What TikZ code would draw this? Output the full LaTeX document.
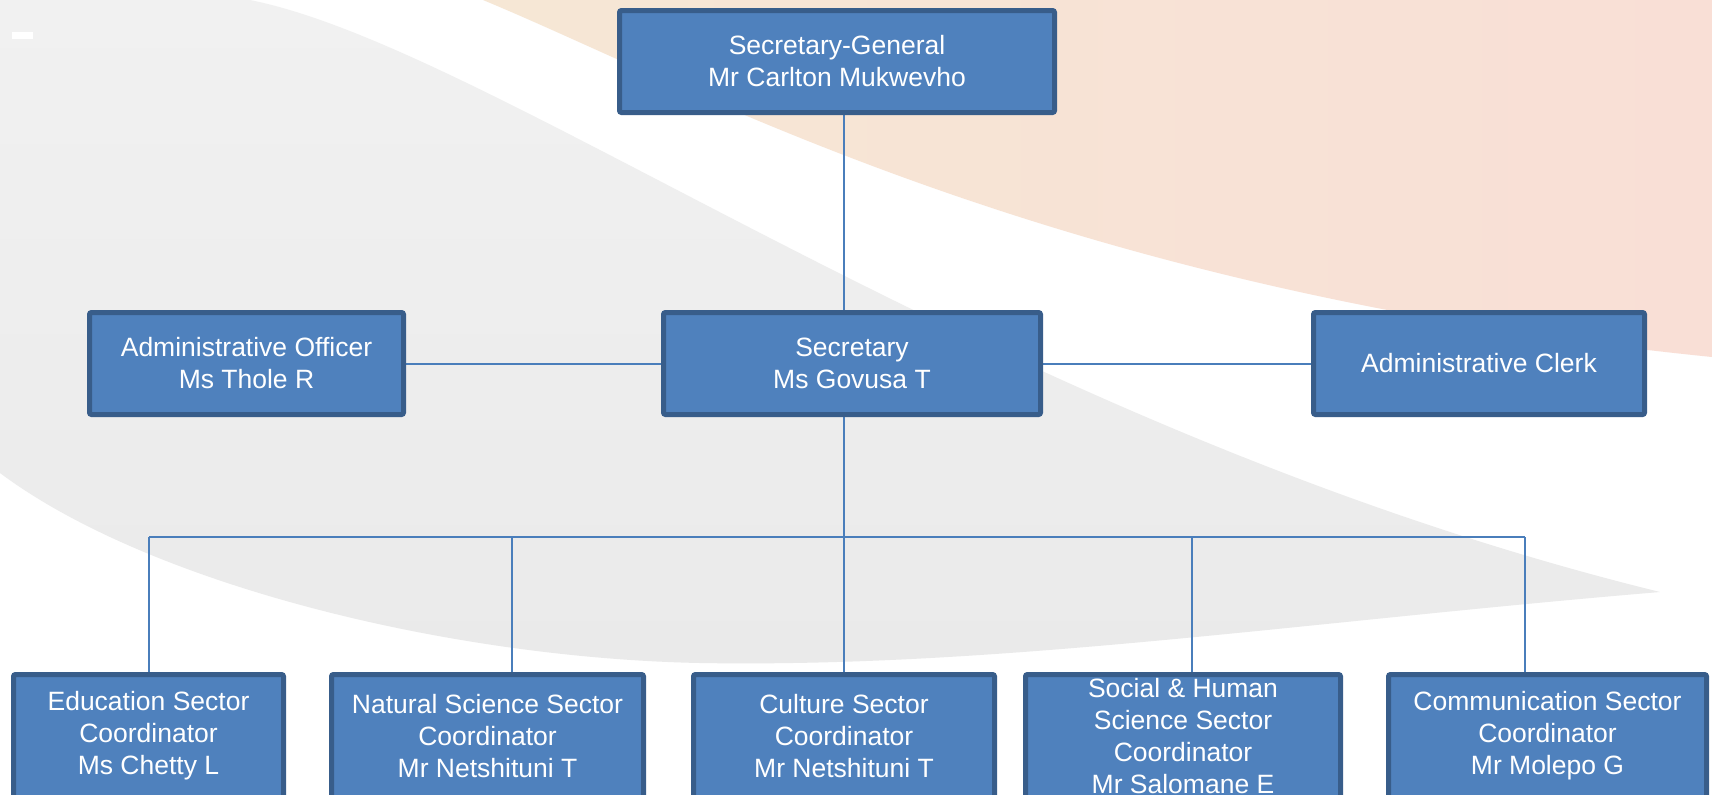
\documentclass[tikz,border=0pt]{standalone}
\usepackage{fontspec}
\setmainfont{Liberation Sans}
\usetikzlibrary{calc}
\definecolor{boxfill}{RGB}{79,129,189}
\definecolor{boxedge}{RGB}{56,93,138}
\definecolor{linkblue}{RGB}{74,126,187}
\definecolor{peachA}{RGB}{246,231,213}
\definecolor{peachB}{RGB}{249,223,214}
\definecolor{swooshA}{RGB}{241,241,241}
\definecolor{swooshB}{RGB}{234,234,234}
\pgfdeclarelayer{bg}
\pgfsetlayers{bg,main}
\begin{document}
\begin{tikzpicture}[x=0.5pt,y=-0.5pt,
  orgbox/.style={draw=boxedge, fill=boxfill, line width=2.5pt, rounded corners=1pt,
    text=white, align=center, inner sep=0pt,
    font=\fontsize{13.25pt}{16pt}\selectfont},
  topbox/.style={orgbox, minimum height=51pt},
  lowbox/.style={orgbox, minimum height=61.5pt},
  link/.style={draw=linkblue, line width=1pt}]
\useasboundingbox (0,0) rectangle (1712,794);
\begin{pgfonlayer}{bg}
  \fill[white] (0,0) rectangle (1712,794);
  % grey swoosh
  \shade[top color=swooshA, bottom color=swooshB] (0,0) -- (250,0)
    .. controls (500,50) and (1000,430) .. (1660,592)
    .. controls (1300,622) and (1000,668) .. (700,663)
    .. controls (450,658) and (150,585) .. (0,473)
    -- cycle;
  % peach band
  \shade[left color=peachA, right color=peachB] (483,0)
    .. controls (700,90) and (1050,290) .. (1712,357)
    -- (1712,0) -- cycle;
  \fill[white] (12,32) rectangle (33,39);
\end{pgfonlayer}

\node[topbox, minimum width=217.5pt] (sg) at (837,61.5) {Secretary-General\\Mr Carlton Mukwevho};
\node[topbox, minimum width=188.5pt] (sec) at (852,363.5) {Secretary\\Ms Govusa T};
\node[topbox, minimum width=157pt] (ao) at (246.5,363.5) {Administrative Officer\\Ms Thole R};
\node[topbox, minimum width=165.5pt] (clerk) at (1479,363.5) {Administrative Clerk};

\node[lowbox, minimum width=135pt] (edu) at (148.5,736) {Education Sector\\Coordinator\\Ms Chetty L};
\node[lowbox, minimum width=156pt] (nat) at (487.5,736) {Natural Science Sector\\Coordinator\\Mr Netshituni T};
\node[lowbox, minimum width=150.5pt] (cul) at (844,736) {Culture Sector\\Coordinator\\Mr Netshituni T};
\node[lowbox, minimum width=157.5pt] (soc) at (1183,736) {Social \& Human\\Science Sector\\Coordinator\\Mr Salomane E};
\node[lowbox, minimum width=159pt] (com) at (1547.5,736) {Communication Sector\\Coordinator\\Mr Molepo G};

\coordinate (b1) at (149,537);
\coordinate (b2) at (512,537);
\coordinate (b3) at (844,537);
\coordinate (b4) at (1192,537);
\coordinate (b5) at (1525,537);

\begin{pgfonlayer}{bg}
  \draw[link] (sg.south -| b3) -- (sec.north -| b3);
  \draw[link] (ao.east) -- (sec.west);
  \draw[link] (sec.east) -- (clerk.west);
  \draw[link] (sec.south -| b3) -- (b3);
  \draw[link] (b1) -- (b5);
  \draw[link] (b1) -- (b1 |- edu.north);
  \draw[link] (b2) -- (b2 |- nat.north);
  \draw[link] (b3) -- (b3 |- cul.north);
  \draw[link] (b4) -- (b4 |- soc.north);
  \draw[link] (b5) -- (b5 |- com.north);
\end{pgfonlayer}
\end{tikzpicture}
\end{document}
